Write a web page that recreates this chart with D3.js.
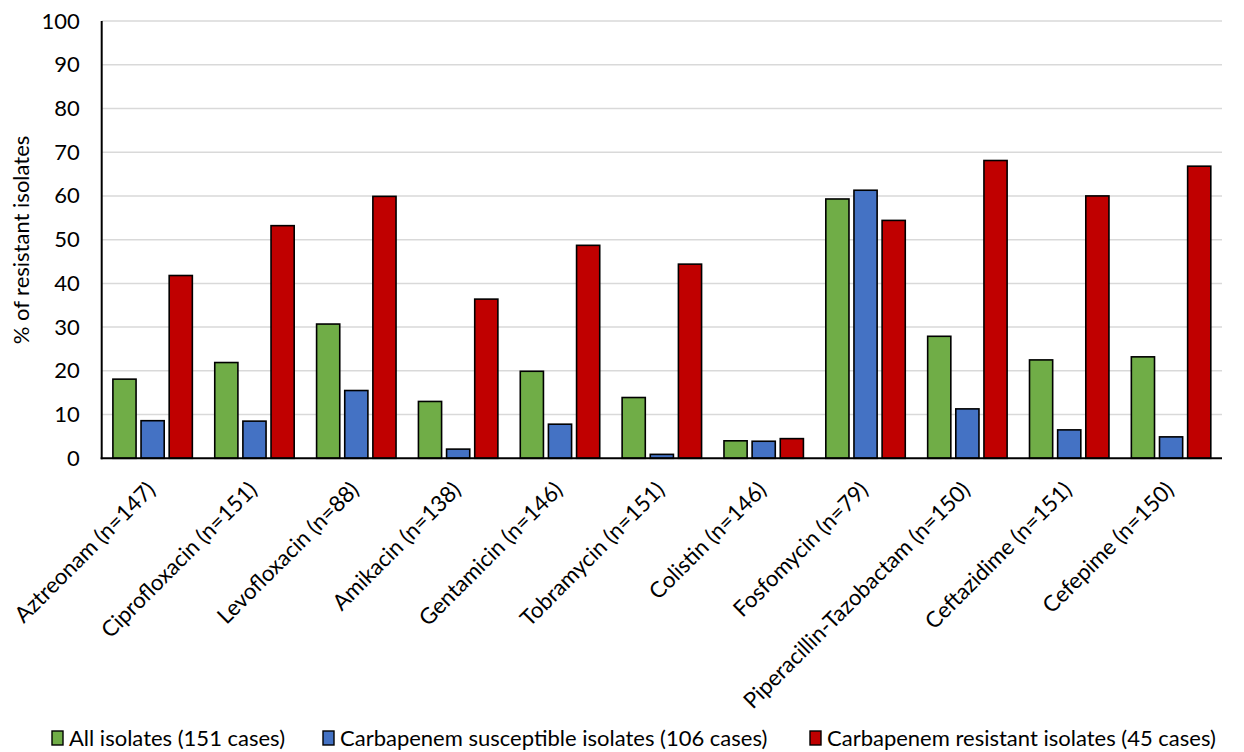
<!DOCTYPE html>
<html>
<head>
<meta charset="utf-8">
<script src="https://cdn.jsdelivr.net/npm/d3@7"></script>
<style>
  html, body { margin: 0; padding: 0; background: #fff; }
  svg { display: block; font-family: Lato, "Open Sans", sans-serif; }
</style>
</head>
<body>
<svg id="chart" width="1244" height="752"></svg>
<script>
// Antibiotics tested, with the number of isolates tested for each
const categories = [
  "Aztreonam (n=147)", "Ciprofloxacin (n=151)", "Levofloxacin (n=88)",
  "Amikacin (n=138)", "Gentamicin (n=146)", "Tobramycin (n=151)",
  "Colistin (n=146)", "Fosfomycin (n=79)", "Piperacillin-Tazobactam (n=150)",
  "Ceftazidime (n=151)", "Cefepime (n=150)"
];

const seriesNames = [
  "All isolates (151 cases)",
  "Carbapenem susceptible isolates (106 cases)",
  "Carbapenem resistant isolates (45 cases)"
];

// % of resistant isolates per antibiotic
const allIsolates         = [18.1, 21.9, 30.7, 13.0, 19.9, 13.9, 4.0, 59.3, 27.9, 22.5, 23.2];
const carbaSusceptible    = [8.6, 8.5, 15.5, 2.1, 7.8, 0.9, 3.9, 61.3, 11.3, 6.5, 4.9];
const carbaResistant      = [41.8, 53.2, 59.9, 36.4, 48.7, 44.4, 4.5, 54.4, 68.1, 60.0, 66.8];

const yTicks = [0, 10, 20, 30, 40, 50, 60, 70, 80, 90, 100];

const colors = ["#70ad47", "#4472c4", "#c00000"];

const seriesValues = [allIsolates, carbaSusceptible, carbaResistant];

const FONT = "Lato, 'Open Sans', sans-serif";

const svg = d3.select("#chart");

const plot = { left: 101.7, right: 1222, top: 21, bottom: 458.3 };

const x0 = d3.scaleBand()
  .domain(categories)
  .range([plot.left, plot.right])
  .padding(0);

const groupPad = 11.2;
const x1 = d3.scaleBand()
  .domain(d3.range(seriesNames.length))
  .range([groupPad, x0.bandwidth() - groupPad])
  .paddingInner(0.177);

const y = d3.scaleLinear()
  .domain([0, 100])
  .range([plot.bottom, plot.top]);

// Horizontal gridlines
svg.append("g")
  .selectAll("line")
  .data(yTicks.filter(d => d > 0))
  .join("line")
  .attr("x1", plot.left)
  .attr("x2", plot.right)
  .attr("y1", d => y(d))
  .attr("y2", d => y(d))
  .attr("stroke", "#d9d9d9")
  .attr("stroke-width", 1.5);

// Y axis labels
const yAxis = d3.axisLeft(y).tickValues(yTicks).tickSize(0).tickPadding(22);
const yg = svg.append("g")
  .attr("transform", `translate(${plot.left},0)`)
  .call(yAxis);
yg.select(".domain").remove();
yg.selectAll("text")
  .attr("font-size", 22)
  .attr("fill", "#000")
  .attr("font-family", FONT);

// Bars
const groups = svg.append("g")
  .selectAll("g")
  .data(categories)
  .join("g")
  .attr("transform", d => `translate(${x0(d)},0)`);

groups.selectAll("rect")
  .data((d, i) => seriesValues.map((vals, s) => ({ s, v: vals[i] })))
  .join("rect")
  .attr("x", d => x1(d.s))
  .attr("width", x1.bandwidth())
  .attr("y", d => y(d.v))
  .attr("height", d => y(0) - y(d.v))
  .attr("fill", d => colors[d.s])
  .attr("stroke", "#000")
  .attr("stroke-width", 1.6);

// Axis lines
svg.append("line")
  .attr("x1", plot.left).attr("x2", plot.left)
  .attr("y1", plot.top).attr("y2", plot.bottom + 1)
  .attr("stroke", "#000").attr("stroke-width", 2);
svg.append("line")
  .attr("x1", plot.left - 1).attr("x2", plot.right)
  .attr("y1", plot.bottom).attr("y2", plot.bottom)
  .attr("stroke", "#000").attr("stroke-width", 2);

// Rotated category labels
const xAxis = d3.axisBottom(x0).tickSize(0).tickPadding(0);
const xg = svg.append("g")
  .attr("transform", `translate(0,${plot.bottom})`)
  .call(xAxis);
xg.select(".domain").remove();
xg.selectAll("text")
  .attr("font-size", 22.2)
  .attr("fill", "#000")
  .attr("font-family", FONT)
  .attr("text-anchor", "end")
  .attr("dy", null)
  .attr("y", 0)
  .attr("transform", "translate(4,33) rotate(-45)");

// Y axis title
svg.append("text")
  .attr("transform", "translate(29,240) rotate(-90)")
  .attr("text-anchor", "middle")
  .attr("font-size", 22)
  .attr("font-family", FONT)
  .attr("fill", "#000")
  .text("% of resistant isolates");

// Legend
const legendX = [52, 323, 810];
const legend = svg.append("g")
  .selectAll("g")
  .data(seriesNames)
  .join("g")
  .attr("transform", (d, i) => `translate(${legendX[i]},731)`);

legend.append("rect")
  .attr("x", 0).attr("y", 0)
  .attr("width", 11).attr("height", 14)
  .attr("fill", (d, i) => colors[i])
  .attr("stroke", "#000")
  .attr("stroke-width", 1.4);

legend.append("text")
  .attr("x", 17)
  .attr("y", 15)
  .attr("font-size", 22)
  .attr("font-family", FONT)
  .attr("fill", "#000")
  .text(d => d);
</script>
</body>
</html>
